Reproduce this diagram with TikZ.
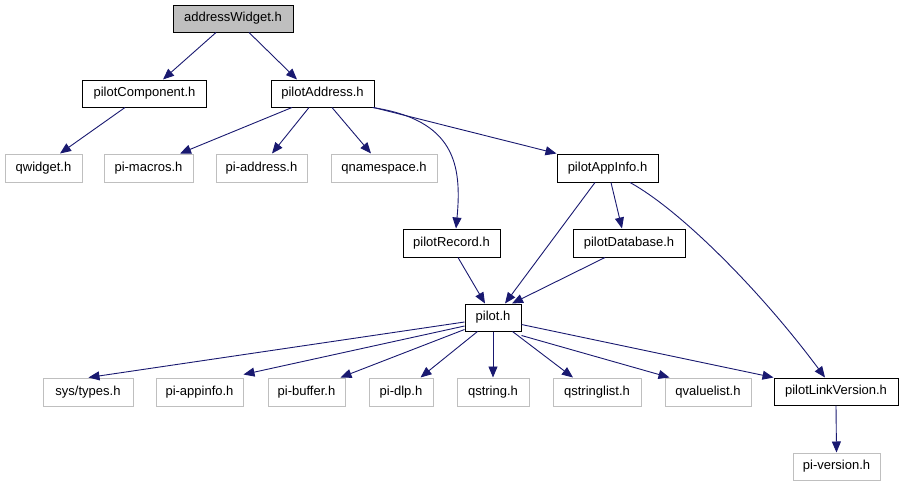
\documentclass[tikz,border=0pt]{standalone}
\usepackage{fontspec}
\setmainfont{Liberation Sans}
\usetikzlibrary{arrows.meta}
\definecolor{edgec}{HTML}{191970}
\definecolor{graybd}{HTML}{BFBFBF}
\begin{document}
\begin{tikzpicture}[x=1pt,y=-1pt,
  box/.style={draw=black, line width=1pt, inner sep=0pt, minimum height=27pt, fill=white, font=\fontsize{13}{15}\selectfont},
  gbox/.style={box, draw=graybd, minimum height=28pt},
  edge/.style={draw=edgec, line width=0.9pt, -{Triangle[length=11pt,width=9pt]}}]
\useasboundingbox (0,0) rectangle (903,485);
% nodes
\node[box, fill=graybd, minimum width=120pt] (aw) at (233,18.5) {addressWidget.h};
\node[box, minimum width=124pt] (pc) at (144.5,93.5) {pilotComponent.h};
\node[box, minimum width=103pt] (pa) at (322.5,93.5) {pilotAddress.h};
\node[gbox, minimum width=77pt] (qw) at (43.5,168) {qwidget.h};
\node[gbox, minimum width=89pt] (pm) at (148.5,168) {pi-macros.h};
\node[gbox, minimum width=91pt] (pad) at (261.5,168) {pi-address.h};
\node[gbox, minimum width=106pt] (qn) at (384,168) {qnamespace.h};
\node[box, minimum width=101pt, minimum height=28pt] (pai) at (607.5,168) {pilotAppInfo.h};
\node[box, minimum width=97pt, minimum height=28pt] (pr) at (451.5,243) {pilotRecord.h};
\node[box, minimum width=112pt, minimum height=28pt] (pd) at (629,243) {pilotDatabase.h};
\node[box, minimum width=56pt] (pl) at (493,317.5) {pilot.h};
\node[gbox, minimum width=90pt] (st) at (88,392) {sys/types.h};
\node[gbox, minimum width=87pt] (pap) at (199.5,392) {pi-appinfo.h};
\node[gbox, minimum width=77pt] (pb) at (306.5,392) {pi-buffer.h};
\node[gbox, minimum width=64pt] (pdl) at (401,392) {pi-dlp.h};
\node[gbox, minimum width=72pt] (qs) at (493,392) {qstring.h};
\node[gbox, minimum width=88pt] (qsl) at (597,392) {qstringlist.h};
\node[gbox, minimum width=86pt] (qvl) at (708,392) {qvaluelist.h};
\node[box, minimum width=124pt] (plv) at (836,391.5) {pilotLinkVersion.h};
\node[gbox, minimum width=87pt, minimum height=27pt] (pv) at (836.5,466.5) {pi-version.h};
% edges
\draw[edge] ([xshift=-17pt]aw.south) -- ([xshift=18.5pt]pc.north);
\draw[edge] ([xshift=16pt]aw.south) -- ([xshift=-25.5pt]pa.north);
\draw[edge] ([xshift=-19.5pt]pc.south) -- ([xshift=16.5pt]qw.north);
\draw[edge] ([xshift=-30.5pt]pa.south) -- ([xshift=31.5pt]pm.north);
\draw[edge] ([xshift=-13.5pt]pa.south) -- ([xshift=10.5pt]pad.north);
\draw[edge] ([xshift=9.5pt]pa.south) -- ([xshift=-13pt]qn.north);
\draw[edge] ([xshift=-2pt]pa.south east) .. controls (455,120) and (462,165) .. ([xshift=4.5pt]pr.north);
\draw[edge] ([xshift=-1pt]pa.south east) -- (pai.north west);
\draw[edge] ([xshift=-12.5pt]pai.south) -- ([xshift=12pt]pl.north);
\draw[edge] ([xshift=3.5pt]pai.south) -- ([xshift=-7pt]pd.north);
\draw[edge] ([xshift=22.5pt]pai.south) .. controls (680,210) and (760,290) .. ([xshift=-11pt]plv.north);
\draw[edge] ([xshift=6.5pt]pr.south) -- ([xshift=-8pt]pl.north);
\draw[edge] ([xshift=-24pt]pd.south) -- ([xshift=19pt]pl.north);
\draw[edge] ([yshift=-4.5pt]pl.west) -- ([xshift=-45pt]st.north east);
\draw[edge] ([yshift=-8.5pt]pl.west) -- ([xshift=0pt,yshift=3pt]pap.north east);
\draw[edge] ([yshift=-12pt]pl.west) -- ([xshift=-5pt]pb.north east);
\draw[edge] ([xshift=13pt]pl.south west) -- ([xshift=-13pt]pdl.north east);
\draw[edge] (pl.south) -- (qs.north);
\draw[edge] ([xshift=-9pt]pl.south east) -- ([xshift=-24pt]qsl.north);
\draw[edge] ([yshift=-4pt]pl.south east) -- ([xshift=5pt]qvl.north west);
\draw[edge] ([yshift=-7pt]pl.east) -- (plv.north west);
\draw[edge] (plv.south) -- (pv.north);
\end{tikzpicture}
\end{document}
